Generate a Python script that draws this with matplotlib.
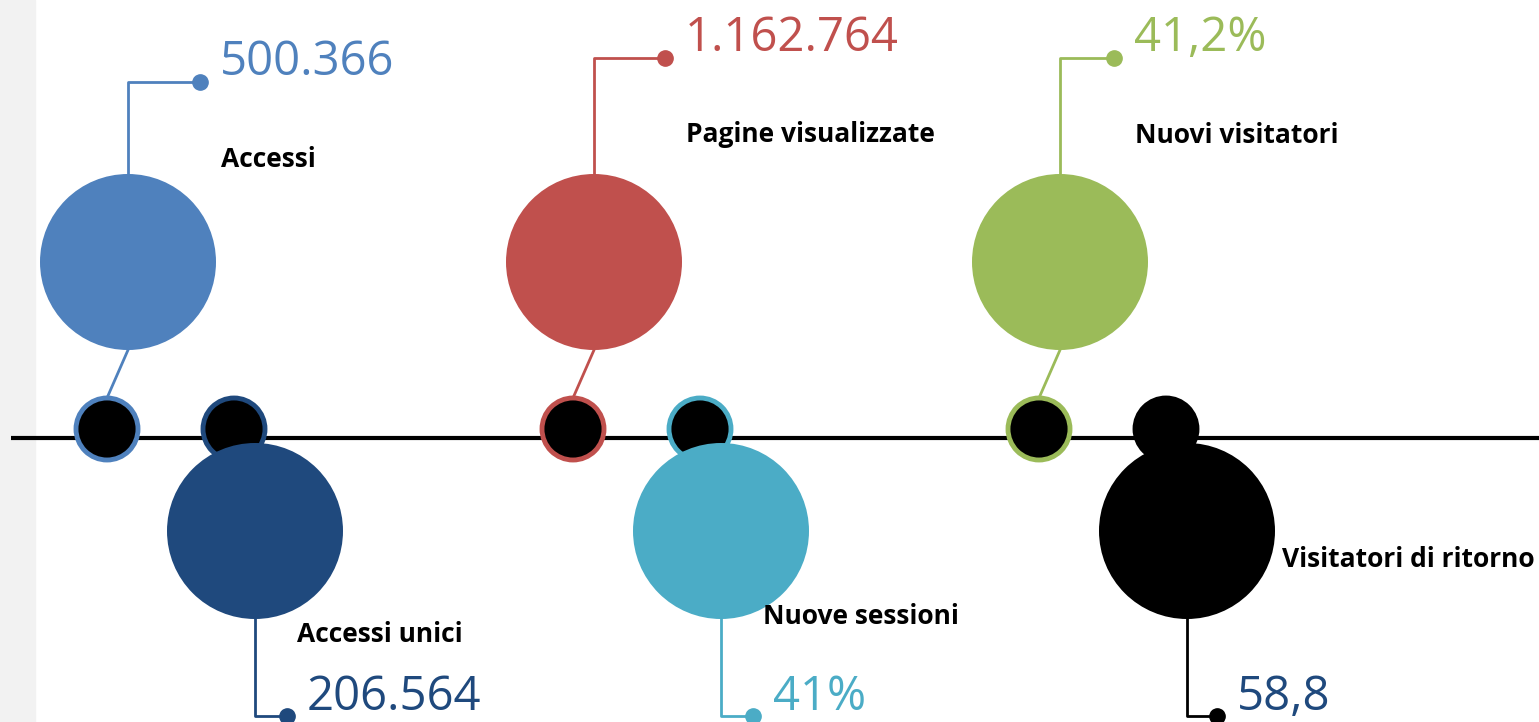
import matplotlib.pyplot as plt
from matplotlib.patches import Circle, Rectangle

# dati
labels = ["Accessi", "Accessi unici", "Pagine visualizzate",
          "Nuove sessioni", "Nuovi visitatori", "Visitatori di ritorno"]
values = ["500.366", "206.564", "1.162.764", "41%", "41,2%", "58,8"]
colors = ["#4F81BD", "#1F497D", "#C0504D", "#4BACC6", "#9BBB59", "#000000"]
value_colors = ["#4F81BD", "#1F497D", "#C0504D", "#4BACC6", "#9BBB59", "#1F497D"]

# layout (pixel)
W, H = 1539, 722
axis_y = 438
small_y = 429
small_r = 31
big_r = 88
elbow_y = [82, 716, 58, 716, 58, 716]
dot_dx = [72, 32, 71, 32, 54, 30]
label_dx = [93, 42, 92, 42, 75, 95]
label_y = [167, 642, 142, 624, 143, 567]

plt.rcParams['font.family'] = ['Open Sans', 'DejaVu Sans']

fig = plt.figure(figsize=(W / 100, H / 100), dpi=100)
ax = fig.add_axes([0, 0, 1, 1])
ax.set_xlim(0, W)
ax.set_ylim(H, 0)
ax.set_aspect('equal')
ax.axis('off')

# striscia grigia a sinistra
ax.add_patch(Rectangle((0, 0), 35, H, color="#F2F2F2", zorder=0))
# linea orizzontale
ax.plot([11, W], [axis_y, axis_y], color="black", lw=3, zorder=1, solid_capstyle='butt')

for i, (lab, val) in enumerate(zip(labels, values)):
    below = i % 2 == 1
    sx = 107 + (i // 2) * 466 + (i % 2) * 127
    bx = sx + 21
    by = 531 if below else 262
    c = colors[i]

    # cerchio piccolo sulla linea
    ax.add_patch(Circle((sx, small_y), small_r, facecolor="black",
                        edgecolor=c, lw=3.5, zorder=2))
    # cerchio grande
    ax.add_patch(Circle((bx, by), big_r, facecolor=c, edgecolor="none", zorder=3))

    if below:
        y0 = by + big_r
    else:
        # collegamento diagonale
        ax.plot([sx, bx], [small_y - small_r, by + big_r], color=c, lw=2, zorder=1.5)
        y0 = by - big_r

    # gomito verso il valore
    ey = elbow_y[i]
    dx = bx + dot_dx[i]
    ax.plot([bx, bx, dx], [y0, ey, ey], color=c, lw=2, zorder=1.5)
    ax.plot(dx, ey, 'o', color=c, ms=11, zorder=4, clip_on=False)

    # testo valore
    vy = ey - 7 if not below else 710
    ax.text(dx + 20, vy, val, color=value_colors[i], fontsize=34,
            ha='left', va='baseline', zorder=5)
    # etichetta
    ax.text(bx + label_dx[i], label_y[i], lab, color="black", fontsize=19,
            fontweight='bold', ha='left', va='baseline', zorder=5)

fig.savefig("out.png", dpi=100)
